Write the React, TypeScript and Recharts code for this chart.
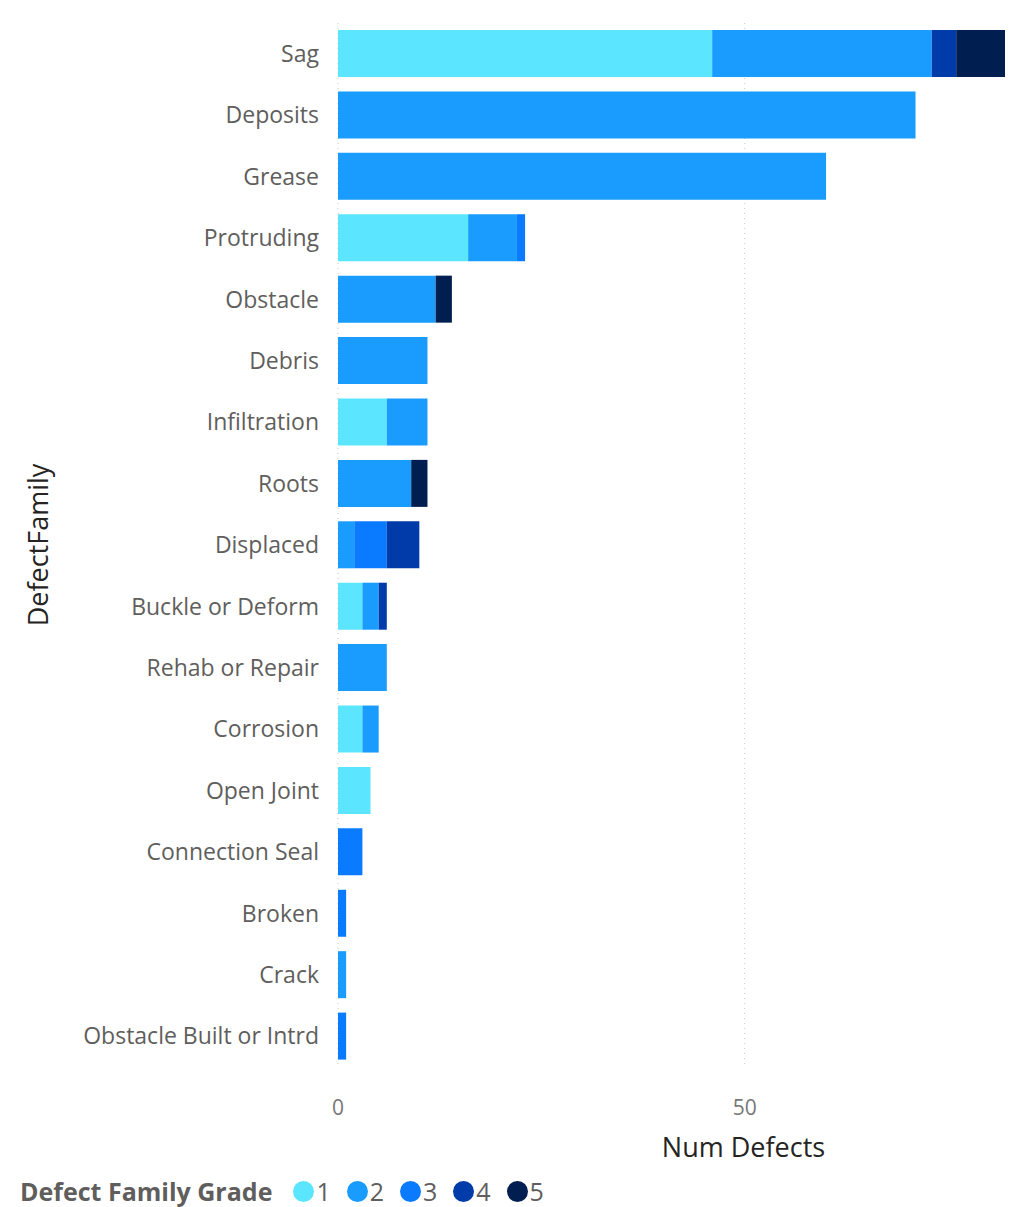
import React from 'react';
import { BarChart, Bar, XAxis, YAxis, CartesianGrid, Legend } from 'recharts';

const categories = ['Sag', 'Deposits', 'Grease', 'Protruding', 'Obstacle', 'Debris', 'Infiltration', 'Roots', 'Displaced', 'Buckle or Deform', 'Rehab or Repair', 'Corrosion', 'Open Joint', 'Connection Seal', 'Broken', 'Crack', 'Obstacle Built or Intrd'];
const grade1 = [46, 0, 0, 16, 0, 0, 6, 0, 0, 3, 0, 3, 4, 0, 0, 0, 0];
const grade2 = [27, 71, 60, 6, 12, 11, 5, 9, 2, 2, 6, 2, 0, 0, 0, 1, 0];
const grade3 = [0, 0, 0, 1, 0, 0, 0, 0, 4, 0, 0, 0, 0, 3, 1, 0, 1];
const grade4 = [3, 0, 0, 0, 0, 0, 0, 0, 4, 1, 0, 0, 0, 0, 0, 0, 0];
const grade5 = [6, 0, 0, 0, 2, 0, 0, 2, 0, 0, 0, 0, 0, 0, 0, 0, 0];
const xTicks = [0, 50];
const grades = ['1', '2', '3', '4', '5'];
const colors = ['#5BE5FF', '#1A9CFF', '#0A7BFF', '#003BAA', '#001E50'];

const seriesArrays = [grade1, grade2, grade3, grade4, grade5];
const data = categories.map((c, i) => {
  const row: any = { name: c };
  grades.forEach((g, k) => { row['g' + g] = seriesArrays[k][i]; });
  return row;
});

const FONT = '"Segoe UI", "Open Sans", "Noto Sans", sans-serif';

const LegendContent = () => (
  <div style={{ display: 'flex', alignItems: 'center', height: 30, fontFamily: FONT, whiteSpace: 'nowrap' }}>
    <span style={{ fontWeight: 700, fontSize: 25, color: '#605E5C', marginRight: 21 }}>Defect Family Grade</span>
    {grades.map((g, i) => (
      <span key={g} style={{ display: 'flex', alignItems: 'center', marginRight: 16 }}>
        <span style={{ width: 21, height: 21, borderRadius: 11, background: colors[i], display: 'inline-block', marginRight: 2 }} />
        <span style={{ fontSize: 25, color: '#605E5C' }}>{g}</span>
      </span>
    ))}
  </div>
);

export default function App() {
  return (
    <div style={{ position: 'absolute', left: 0, top: 0, width: 1015, height: 1207, background: '#fff' }}>
      <BarChart
        width={1015}
        height={1207}
        data={data}
        layout="vertical"
        margin={{ top: 23, right: 10, bottom: 15, left: 0 }}
        barSize={47}
      >
        <CartesianGrid horizontal={false} vertical={true} verticalValues={xTicks} stroke="#C8C8C8" strokeDasharray="1 4" />
        <XAxis
          type="number"
          domain={[0, 'dataMax']}
          ticks={xTicks}
          axisLine={false}
          tickLine={false}
          tickMargin={27}
          tick={{ fill: '#777777', fontSize: 21, fontFamily: FONT }}
          height={95}
          label={{ value: 'Num Defects', position: 'insideBottom', offset: 5, dx: 72, fill: '#252423', fontSize: 27, fontFamily: FONT }}
        />
        <YAxis
          type="category"
          dataKey="name"
          width={338}
          axisLine={false}
          tickLine={false}
          tickMargin={13}
          interval={0}
          tick={{ fill: '#605E5C', fontSize: 23, fontFamily: FONT }}
          label={{ value: 'DefectFamily', angle: -90, position: 'insideLeft', offset: 38, fill: '#252423', fontSize: 27, fontFamily: FONT, style: { textAnchor: 'middle' } }}
        />
        <Legend verticalAlign="bottom" align="left" content={<LegendContent />} wrapperStyle={{ left: 20, bottom: 1, width: 'auto' }} />
        {grades.map((g, i) => (
          <Bar key={g} dataKey={'g' + g} name={g} stackId="a" fill={colors[i]} isAnimationActive={false} />
        ))}
      </BarChart>
    </div>
  );
}
